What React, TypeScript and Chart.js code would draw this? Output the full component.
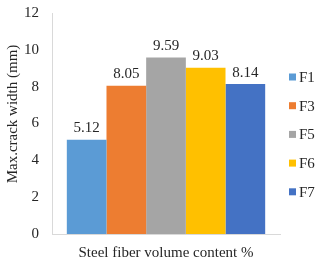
import React, { useEffect, useRef } from "react";
import { Chart, registerables } from "chart.js";

Chart.register(...registerables);

const categories = [""];
const seriesNames = ["F1", "F3", "F5", "F6", "F7"];
const seriesValues = [5.12, 8.05, 9.59, 9.03, 8.14];
const seriesColors = ["#5B9BD5", "#ED7D31", "#A5A5A5", "#FFC000", "#4472C4"];
const yTicks = [0, 2, 4, 6, 8, 10, 12];
const yTitle = "Max.crack width (mm)";
const xTitle = "Steel fiber volume content %";

const FONT = "'Liberation Serif', 'Times New Roman', serif";
const TEXT = "#262626";

const extras = {
  id: "extras",
  afterDatasetsDraw(chart: any) {
    const ctx = chart.ctx;
    ctx.save();
    // value labels
    ctx.font = `15px ${FONT}`;
    ctx.fillStyle = TEXT;
    ctx.textAlign = "center";
    ctx.textBaseline = "bottom";
    chart.data.datasets.forEach((ds: any, i: number) => {
      const meta = chart.getDatasetMeta(i);
      meta.data.forEach((el: any, j: number) => {
        const v = ds.data[j] as number;
        ctx.fillText(v.toFixed(2), el.x, el.y - 4);
      });
    });
    // y title
    ctx.save();
    ctx.translate(13, 114);
    ctx.rotate(-Math.PI / 2);
    ctx.textBaseline = "middle";
    ctx.fillText(yTitle, 0, 0);
    ctx.restore();
    // legend
    const a = chart.chartArea;
    const lx = a.right + 9;
    chart.data.datasets.forEach((ds: any, i: number) => {
      const cy = 77 + i * 28.7;
      ctx.fillStyle = ds.backgroundColor;
      ctx.fillRect(lx, cy - 3.5, 7, 7);
      ctx.fillStyle = TEXT;
      ctx.textAlign = "left";
      ctx.textBaseline = "middle";
      ctx.fillText(ds.label, lx + 10, cy + 1);
    });
    ctx.restore();
  },
};

export default function App() {
  const ref = useRef<HTMLCanvasElement | null>(null);
  useEffect(() => {
    document.body.style.margin = "0";
    if (!ref.current) return;
    const chart = new Chart(ref.current, {
      type: "bar",
      data: {
        labels: categories,
        datasets: seriesNames.map((n, i) => ({
          label: n,
          data: [seriesValues[i]],
          backgroundColor: seriesColors[i],
          borderWidth: 0,
          barPercentage: 1,
          categoryPercentage: 0.87,
        })),
      },
      options: {
        animation: false,
        responsive: false,
        maintainAspectRatio: false,
        layout: { padding: { top: 13, right: 40, left: 11, bottom: 2 } },
        plugins: {
          tooltip: { enabled: false },
          legend: { display: false },
        },
        scales: {
          x: {
            grid: { display: false, drawTicks: false },
            border: { color: "#D9D9D9", width: 1 },
            ticks: { display: false },
            title: {
              display: true,
              text: xTitle,
              color: TEXT,
              font: { family: FONT, size: 15 },
              padding: { top: 10, bottom: 0 },
            },
          },
          y: {
            min: 0,
            max: 12,
            afterBuildTicks: (axis: any) => {
              axis.ticks = yTicks.map((v) => ({ value: v }));
            },
            afterFit: (axis: any) => {
              axis.paddingTop = 0;
              axis.paddingBottom = 0;
            },
            grid: { display: false, drawTicks: false },
            border: { color: "#D9D9D9", width: 1 },
            ticks: {
              color: TEXT,
              font: { family: FONT, size: 15 },
              padding: 13,
            },
          },
        },
      },
      plugins: [extras],
    });
    return () => chart.destroy();
  }, []);
  return (
    <div style={{ position: "absolute", left: 0, top: 0, width: 320, height: 264, background: "#fff" }}>
      <canvas ref={ref} width={320} height={264} style={{ width: 320, height: 264 }} />
    </div>
  );
}
